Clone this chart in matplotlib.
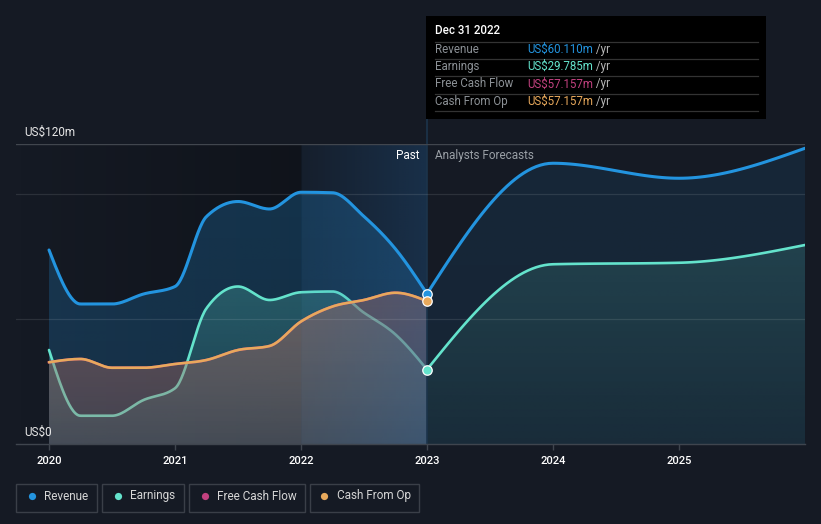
import numpy as np
import matplotlib
matplotlib.use("Agg")
import matplotlib.pyplot as plt
from matplotlib.patches import Polygon, Rectangle
from matplotlib.lines import Line2D
from matplotlib.text import Annotation
from matplotlib.colors import to_rgb

plt.rcParams['font.family'] = ['Roboto', 'DejaVu Sans']

# ---------------- data (US$ m) ----------------
past_dates = [2020.0, 2020.25, 2020.5, 2020.75, 2021.0, 2021.25, 2021.5, 2021.75,
              2022.0, 2022.25, 2022.5, 2022.75, 2023.0]
revenue_past = [77.6, 56.0, 56.0, 60.0, 63.0, 91.0, 97.0, 94.0, 100.7, 100.5, 91.0, 78.0, 60.11]
earnings_past = [37.6, 11.3, 11.3, 17.6, 22.3, 54.3, 63.0, 57.6, 60.7, 61.0, 52.5, 43.8, 29.785]
cfo_past = [32.7, 34.0, 30.5, 30.5, 32.0, 33.6, 37.6, 39.2, 49.0, 55.0, 57.6, 60.5, 57.157]
fcf_past = [32.7, 34.0, 30.5, 30.5, 32.0, 33.6, 37.6, 39.2, 49.0, 55.0, 57.6, 60.5, 57.157]

fc_dates = [2023.0, 2024.0, 2025.0, 2026.0]
revenue_fc = [60.11, 112.3, 106.3, 118.3]
earnings_fc = [29.785, 71.9, 72.5, 79.6]

year_ticks = [2020, 2021, 2022, 2023, 2024, 2025]
year_labels = ['2020', '2021', '2022', '2023', '2024', '2025']

tooltip_date = 'Dec 31 2022'
tooltip_rows = [('Revenue', 'US$60.110m'), ('Earnings', 'US$29.785m'),
                ('Free Cash Flow', 'US$57.157m'), ('Cash From Op', 'US$57.157m')]
legend_names = ['Revenue', 'Earnings', 'Free Cash Flow', 'Cash From Op']

# ---------------- style ----------------
BG = '#151a24'
C_REV = '#2394df'
C_EARN = '#64e3cc'
C_FCF = '#c2417f'
C_CFO = '#e8a95c'
W, H = 821, 524


def monotone(x, y, n=30):
    """d3 curveMonotoneX style rendering through the given points."""
    x = np.asarray(x, float); y = np.asarray(y, float)
    h = np.diff(x); s = np.diff(y) / h
    m = np.zeros_like(y)
    for k in range(1, len(x) - 1):
        p = (s[k - 1] * h[k] + s[k] * h[k - 1]) / (h[k - 1] + h[k])
        m[k] = (np.sign(s[k - 1]) + np.sign(s[k])) * min(abs(s[k - 1]), abs(s[k]), 0.5 * abs(p))
    m[0] = (3 * s[0] - m[1]) / 2 if len(x) > 2 else s[0]
    m[-1] = (3 * s[-1] - m[-2]) / 2 if len(x) > 2 else s[-1]
    xs, ys = [], []
    for k in range(len(x) - 1):
        t = np.linspace(0, 1, n, endpoint=(k == len(x) - 2))
        h00 = 2 * t**3 - 3 * t**2 + 1; h10 = t**3 - 2 * t**2 + t
        h01 = -2 * t**3 + 3 * t**2; h11 = t**3 - t**2
        xs.append(x[k] + t * h[k])
        ys.append(h00 * y[k] + h10 * h[k] * m[k] + h01 * y[k + 1] + h11 * h[k] * m[k + 1])
    return np.concatenate(xs), np.concatenate(ys)


def grad_fill(ax, xs, ys, c_top, a_top, c_bot, a_bot, y_top, z):
    verts = list(zip(xs, ys)) + [(xs[-1], 0), (xs[0], 0)]
    poly = Polygon(verts, closed=True, facecolor='none', edgecolor='none')
    ax.add_patch(poly)
    n = 256
    t = np.linspace(0, 1, n)[:, None]
    rgba = np.zeros((n, 1, 4))
    ct, cb = np.array(to_rgb(c_top)), np.array(to_rgb(c_bot))
    rgba[..., :3] = (cb * (1 - t) + ct * t).reshape(n, 1, 3)
    rgba[..., 3] = a_bot * (1 - t) + a_top * t
    im = ax.imshow(rgba, extent=[xs[0], xs[-1], 0, y_top], origin='lower',
                   aspect='auto', zorder=z, interpolation='bilinear')
    im.set_clip_path(poly)


def hgrad(ax, x0, x1, y0, y1, color, a0, a1, z):
    n = 256
    t = np.linspace(0, 1, n)[None, :]
    rgba = np.zeros((1, n, 4))
    rgba[..., :3] = to_rgb(color)
    rgba[..., 3] = a0 * (1 - t) + a1 * t
    ax.imshow(rgba, extent=[x0, x1, y0, y1], origin='lower', aspect='auto',
              zorder=z, interpolation='bilinear')


fig = plt.figure(figsize=(W / 100, H / 100), dpi=100, facecolor=BG)
ax = fig.add_axes([16 / W, 80 / H, 789 / W, 300 / H])
ax.set_facecolor(BG)

XMIN, XMAX, YMAX = 2019.738, 2026.0, 120

# background shading: past darker, last year highlighted
hgrad(ax, XMIN, past_dates[-5], 0, YMAX, '#000000', 0.0, 0.25, 0.5)

# smoothed curves
rx, ry = monotone(past_dates, revenue_past)
ex, ey = monotone(past_dates, earnings_past)
cx, cy = monotone(past_dates, cfo_past)
fx, fy = monotone(past_dates, fcf_past)
rfx, rfy = monotone(fc_dates, revenue_fc)
efx, efy = monotone(fc_dates, earnings_fc)

# past fills
grad_fill(ax, rx, ry, C_REV, 0.25, C_REV, 0.2, 105, 1.0)
grad_fill(ax, ex, ey, C_EARN, 0.24, C_EARN, 0.08, 65, 1.1)
ax.plot(ex, ey, color=C_EARN, lw=1.9, zorder=1.2, solid_capstyle='round')
grad_fill(ax, cx, cy, '#a06660', 0.55, '#aa7068', 0.3, 62, 1.3)

# forecast fills
grad_fill(ax, rfx, rfy, C_REV, 0.11, C_REV, 0.09, 120, 1.0)
grad_fill(ax, efx, efy, C_EARN, 0.15, C_EARN, 0.04, 80, 1.1)

# last-year highlight band
hgrad(ax, past_dates[-5], past_dates[-1], 0, YMAX, '#236eb4', 0.06, 0.26, 1.4)

# gridlines
for v in [50, 100]:
    ax.axhline(v, color='white', alpha=0.1, lw=0.9, zorder=1.5)
ax.axhline(120, color='#41464e', lw=1.0, zorder=1.5)

# lines
ax.plot(rx, ry, color=C_REV, lw=2.2, zorder=2, solid_capstyle='round')
ax.plot(fx, fy, color=C_FCF, lw=1.9, zorder=2.05)
ax.plot(cx, cy, color=C_CFO, lw=1.9, zorder=2.1, solid_capstyle='round')
ax.plot(rfx, rfy, color=C_REV, lw=2.2, zorder=2, solid_capstyle='round')
ax.plot(efx, efy, color=C_EARN, lw=1.9, zorder=2, solid_capstyle='round')

# hover line
ax.axvline(past_dates[-1], ymin=0, ymax=130 / 120, color='#1c344b', lw=1.2,
           zorder=1.45, clip_on=False)

# markers
ax.plot(past_dates[-1], revenue_past[-1], 'o', ms=6.8, mfc=C_REV, mec='white', mew=0.9, zorder=4)
ax.plot(past_dates[-1], earnings_past[-1], 'o', ms=6.8, mfc=C_EARN, mec='white', mew=0.9, zorder=4)
ax.plot(past_dates[-1], cfo_past[-1], 'o', ms=6.8, mfc=C_CFO, mec='white', mew=0.9, zorder=4.1)

ax.set_xlim(XMIN, XMAX)
ax.set_ylim(0, YMAX)
for s in ['top', 'right', 'left']:
    ax.spines[s].set_visible(False)
ax.spines['bottom'].set_color('#3f454e')
ax.spines['bottom'].set_linewidth(1.0)
ax.spines['bottom'].set_zorder(5)
ax.set_yticks([])
ax.set_xticks(year_ticks)
ax.set_xticklabels(year_labels)
ax.tick_params(axis='x', colors='#3f454e', length=4, width=1, pad=5,
               labelcolor='white', labelsize=8)
for lbl in ax.get_xticklabels():
    lbl.set_fontweight('medium')


def ftxt(x, y, s, **kw):
    return fig.text(x / W, 1 - y / H, s, **kw)


ftxt(24, 132, 'US$120m', color='#e6e6e6', fontsize=8.5, va='center')
ftxt(24, 432, 'US$0', color='#e6e6e6', fontsize=8.5, va='center', zorder=6)
ftxt(419, 156, 'Past', color='white', fontsize=8.5, va='center', ha='right')
ftxt(435, 156, 'Analysts Forecasts', color='#9aa0a6', fontsize=8.5, va='center')

# tooltip
fig.add_artist(Rectangle((426 / W, 1 - 119 / H), 340 / W, 103 / H, transform=fig.transFigure,
                         facecolor='black', edgecolor='none', zorder=10))
ftxt(435, 31, tooltip_date, color='white', fontsize=8.3, va='center', fontweight='medium', zorder=11)
for yy in [41.5, 58.5, 76, 93.5, 111]:
    fig.add_artist(Line2D([435 / W, 758 / W], [1 - yy / H] * 2, color='#333333', lw=0.9, zorder=11))
val_colors = [C_REV, C_EARN, C_FCF, C_CFO]
for (lab, val), col, yy in zip(tooltip_rows, val_colors, [49.5, 66.5, 84, 101]):
    ftxt(435, yy, lab, color='#8c9196', fontsize=8.3, va='center', zorder=11)
    t = ftxt(527, yy, val, color=col, fontsize=8.3, va='center', zorder=11)
    ann = Annotation(' /yr', xy=(1, 0.5), xycoords=t, va='center', ha='left',
                     color='#b8b8b8', fontsize=8.3, annotation_clip=False)
    ann.set_zorder(12)
    fig.add_artist(ann)

# legend
boxes = [(16, 97.3), (102.3, 184.3), (189.3, 304.7), (309.7, 419.3)]
dots = [31.7, 117.7, 205, 324.3]
txt_x = [44.3, 130, 217, 337]
for (x0, x1), dx, tx, name, col in zip(boxes, dots, txt_x, legend_names, val_colors):
    fig.add_artist(Rectangle((x0 / W, 1 - 511.5 / H), (x1 - x0) / W, 27.2 / H,
                             transform=fig.transFigure, facecolor='none',
                             edgecolor='#3a3f48', lw=1.0))
    fig.add_artist(Line2D([dx / W], [1 - 496 / H], marker='o', ms=5.2, color=col,
                          mec='none', transform=fig.transFigure))
    ftxt(tx, 496, name, color='#d6d6d6', fontsize=8.5, va='center')

fig.savefig('out.png', dpi=100, facecolor=BG)
